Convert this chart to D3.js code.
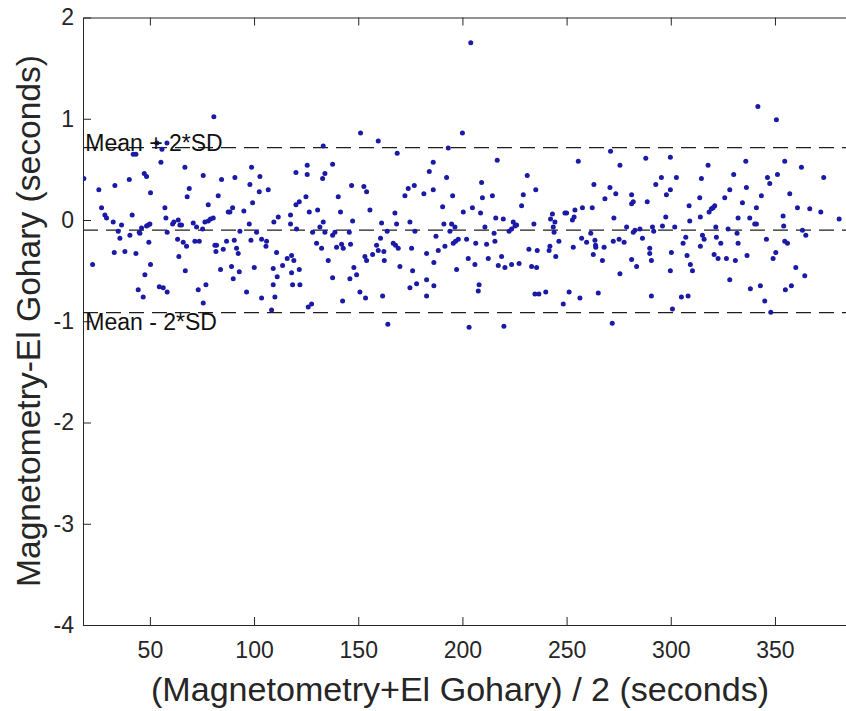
<!DOCTYPE html>
<html><head><meta charset="utf-8">
<script src="https://cdn.jsdelivr.net/npm/d3@7"></script>
<style>html,body{margin:0;padding:0;background:#fff;} svg{display:block;}</style>
</head><body>
<svg id="chart" width="846" height="711"></svg>
<script>
// Mean of the two methods (seconds)
const avgSec = [
18.3,22.5,25.5,26.8,28.4,29.2,32.4,33.2,32.9,34.8,35.6,36.4,38.0,40.1,40.4,41.5,42.0,43.3,43.3,44.4,
44.9,45.2,46.0,46.8,47.3,47.6,48.4,48.4,49.2,50.0,49.5,50.3,50.3,53.4,55.8,58.2,55.3,54.5,56.4,57.2,
57.7,58.3,58.3,60.9,61.5,63.6,63.3,63.9,64.4,65.2,66.0,66.8,67.0,67.6,67.9,68.9,70.8,71.6,72.4,73.2,
73.7,75.3,75.6,75.6,76.4,76.9,78.0,78.0,79.1,80.4,80.7,81.2,81.7,82.0,82.8,83.9,84.4,85.2,86.8,87.6,
88.4,89.2,89.7,90.0,90.5,90.8,91.6,92.4,92.9,93.2,95.1,96.4,97.7,98.0,98.5,98.8,99.3,100.1,101.2,102.5,
102.8,103.6,103.6,105.7,106.0,106.8,
108.4,109.2,109.2,109.5,110.0,110.8,111.1,111.6,113.7,115.9,117.5,117.5,118.0,118.0,118.5,119.1,120.1,120.1,120.4,121.7,
121.7,122.0,124.9,125.5,125.5,126.0,126.5,127.6,128.1,130.0,130.5,131.6,132.4,132.9,133.2,133.2,134.0,134.0,135.6,137.7,
137.7,137.7,138.8,139.6,140.4,141.5,142.0,142.5,142.8,145.7,146.0,146.3,146.8,147.3,147.9,149.2,150.8,151.1,152.7,153.2,
153.5,154.0,154.0,155.6,156.9,158.8,159.6,159.6,160.7,161.2,161.7,162.3,162.5,163.9,164.2,166.8,167.6,167.9,168.4,168.7,
169.2,170.0,172.4,174.0,174.8,174.8,175.6,176.1,176.9,177.2,178.0,181.5,182.8,182.8,182.8,184.1,186.0,186.0,186.3,186.3,
187.3,188.4,190.5,191.1,191.6,192.4,193.2,194.0,194.8,195.3,195.6,196.4,196.7,197.2,198.0,
200.0,200.4,202.0,202.8,203.2,204.0,204.8,206.0,206.4,207.6,208.0,208.7,209.2,209.6,210.8,211.6,212.4,214.4,215.2,215.6,
216.0,216.7,217.2,218.8,219.6,219.9,220.4,222.4,223.6,223.6,224.4,225.2,226.0,227.2,228.4,229.2,231.1,231.9,233.2,234.3,
234.8,235.2,235.6,235.9,236.7,240.0,241.6,242.0,242.3,243.2,243.6,244.0,244.4,244.8,246.3,248.4,249.2,250.0,251.2,252.8,
253.2,253.6,254.0,255.6,256.4,257.2,257.6,259.6,261.6,262.3,262.8,263.1,263.6,263.9,264.0,265.2,267.2,268.0,268.4,270.8,
271.1,271.9,272.4,272.7,273.6,275.2,275.6,275.6,277.6,278.8,281.2,281.2,281.2,282.0,282.0,282.8,283.6,285.2,286.4,288.0,
288.7,
289.9,289.9,290.7,290.7,291.2,291.8,292.8,295.5,296.0,297.6,297.9,299.8,299.8,299.8,300.3,300.8,301.9,302.7,305.1,305.9,
307.2,307.8,308.3,308.8,309.1,309.4,310.4,313.9,314.2,314.2,314.7,315.2,316.0,317.9,318.4,319.5,320.3,321.1,320.8,321.6,
321.9,322.7,324.0,325.9,326.7,327.5,328.3,328.3,330.2,331.0,331.8,332.3,332.3,334.4,336.0,336.3,336.6,337.9,338.2,340.3,
341.1,341.1,341.8,343.0,343.5,345.1,345.9,346.4,347.5,348.0,349.1,350.4,350.7,351.2,353.9,354.2,354.7,354.7,355.0,356.0,
357.1,357.9,360.0,360.8,362.7,363.2,364.3,364.8,366.7,372.0,373.4,380.8
];
// Difference between the two methods (seconds)
const diffSec = [
0.41,-0.44,0.30,0.12,0.05,0.02,-0.02,0.34,-0.32,-0.11,-0.18,-0.05,-0.31,0.40,-0.15,0.05,0.65,0.65,-0.33,-0.69,
-0.12,-0.13,-0.08,-0.76,0.46,-0.54,0.43,-0.06,-0.05,-0.04,-0.22,0.27,-0.44,0.76,0.70,0.76,0.57,-0.66,-0.67,0.12,
0.02,-0.12,-0.71,-0.04,-0.02,0.00,-0.19,-0.36,-0.05,-0.05,-0.22,0.52,-0.50,-0.26,0.23,0.31,-0.03,-0.21,-0.07,-0.69,
-0.21,-0.09,0.44,-0.82,-0.02,-0.64,0.15,-0.01,0.01,0.02,1.02,-0.25,-0.31,-0.25,0.24,-0.49,0.40,-0.29,-0.21,0.08,
0.08,-0.46,0.12,-0.58,-0.20,0.42,-0.28,-0.33,-0.51,-0.11,0.09,-0.71,-0.04,0.35,-0.20,0.52,0.17,-0.47,-0.12,0.28,
0.43,-0.77,-0.19,-0.26,-0.21,0.30,
-0.89,-0.48,-0.64,-0.02,-0.76,-0.32,-0.56,0.03,-0.45,-0.38,0.05,-0.04,-0.35,-0.52,-0.64,-0.40,0.47,0.15,-0.09,0.18,
-0.49,-0.64,0.23,0.54,0.45,-0.86,0.08,-0.83,-0.12,-0.23,0.10,-0.07,-0.28,0.41,-0.02,0.73,0.46,-0.12,-0.40,0.55,
-0.15,-0.57,-0.12,-0.27,0.23,0.08,-0.24,-0.80,-0.28,-0.12,-0.58,-0.24,0.34,-0.01,-0.47,-0.54,-0.71,0.86,0.33,-0.36,
-0.77,0.28,-0.40,0.10,-0.34,-0.25,0.78,-0.30,-0.18,-0.03,-0.75,-0.31,-0.40,-0.11,-1.03,-0.23,0.07,-0.25,-0.04,0.66,
-0.28,-0.46,0.24,0.31,-0.02,-0.67,-0.28,-0.50,0.34,-0.11,-0.63,0.26,-0.33,-0.59,-0.75,0.48,0.57,0.30,-0.65,-0.42,
-0.16,-0.30,0.13,-0.04,-0.26,0.42,0.71,-0.11,-0.04,0.24,-0.23,-0.07,-0.21,-0.49,-0.19,
0.86,0.08,-0.19,-0.38,-1.06,1.75,0.12,-0.44,-0.23,-0.70,-0.64,0.07,0.37,0.22,-0.07,-0.24,-0.38,0.24,-0.13,-0.21,
0.02,0.59,-0.45,-0.36,0.01,-1.05,-0.47,-0.11,-0.09,-0.44,-0.02,-0.06,-0.05,-0.43,0.14,0.25,0.44,-0.29,-0.46,-0.04,
-0.73,0.30,-0.47,-0.30,-0.73,-0.71,-0.30,-0.26,0.01,0.06,-0.07,-0.12,-0.02,-0.36,-0.21,-0.83,0.07,0.07,-0.71,0.00,
-0.27,0.03,0.10,0.58,-0.77,-0.18,0.12,-0.22,-0.13,0.12,-0.34,0.35,-0.20,-0.25,-0.27,-0.72,-0.40,-0.27,0.21,0.32,
0.68,-1.02,-0.21,0.02,0.26,-0.19,-0.53,0.54,-0.22,-0.07,0.25,-0.39,0.16,0.18,-0.12,-0.10,-0.46,-0.09,-0.18,0.61,
0.18,
-0.28,-0.33,-0.40,-0.75,-0.07,-0.11,0.35,0.42,-0.06,0.03,0.25,0.62,0.30,-0.50,-0.32,-0.88,-0.07,0.42,-0.76,-0.23,
-0.17,-0.35,-0.75,0.14,-0.01,-0.44,-0.50,0.22,0.03,-0.26,0.41,-0.15,-0.19,0.54,0.08,0.11,0.12,0.14,-0.34,-0.07,
-0.17,-0.38,-0.23,0.22,-0.38,-0.09,0.30,-0.59,0.45,-0.40,-0.13,0.02,-0.23,0.17,0.58,0.32,-0.35,0.02,-0.68,-0.04,
0.12,-0.04,1.12,-0.65,0.24,-0.80,-0.19,0.42,0.36,-0.91,-0.38,-0.32,0.99,0.45,0.04,-0.06,0.58,-0.21,-0.69,-0.23,
0.26,-0.65,-0.47,0.12,0.52,-0.10,-0.55,-0.15,0.11,0.08,0.42,0.01
];
const meanDiff = -0.100;
const upperLimit = 0.715;
const lowerLimit = -0.915;
const limitLabels = ["Mean + 2*SD", "Mean - 2*SD"];
const xTicks = [50, 100, 150, 200, 250, 300, 350];
const yTicks = [-4, -3, -2, -1, 0, 1, 2];
const xLabel = "(Magnetometry+El Gohary) / 2 (seconds)";
const yLabel = "Magnetometry-El Gohary (seconds)";

const svg = d3.select("#chart");
const FONT = "'Liberation Sans', Arial, Helvetica, sans-serif";
const axisColor = "#262626";

const x = d3.scaleLinear().domain([17.9, 390]).range([83, 858.3]);
const y = d3.scaleLinear().domain([-4, 2]).range([625, 17.5]);
const [x0, x1] = x.range();
const [yb, yt] = y.range();

svg.append("defs").append("clipPath").attr("id", "plotClip")
  .append("rect").attr("x", x0).attr("y", yt).attr("width", x1 - x0).attr("height", yb - yt);

const plain = d => String(d);

// Axes
const gx = svg.append("g").attr("transform", `translate(0,${yb})`)
  .call(d3.axisBottom(x).tickValues(xTicks).tickFormat(plain).tickSizeInner(-8).tickSizeOuter(0).tickPadding(17));
const gxTop = svg.append("g").attr("transform", `translate(0,${yt})`)
  .call(d3.axisTop(x).tickValues(xTicks).tickSizeInner(-8).tickSizeOuter(0).tickFormat(""));
const gy = svg.append("g").attr("transform", `translate(${x0},0)`)
  .call(d3.axisLeft(y).tickValues(yTicks).tickFormat(plain).tickSizeInner(-8).tickSizeOuter(0).tickPadding(9));

[gx, gxTop, gy].forEach(g => {
  g.selectAll("path.domain").attr("stroke", axisColor).attr("stroke-width", 1);
  g.selectAll(".tick line").attr("stroke", axisColor).attr("stroke-width", 1);
  g.selectAll(".tick text").attr("fill", axisColor).style("font-family", FONT).style("font-size", "23px");
});

const plot = svg.append("g").attr("clip-path", "url(#plotClip)");

// Reference lines
[upperLimit, meanDiff, lowerLimit].forEach(v => {
  plot.append("line")
    .attr("x1", x0).attr("x2", x1)
    .attr("y1", y(v)).attr("y2", y(v))
    .attr("stroke", "#1e1e1e").attr("stroke-width", 1.3)
    .attr("stroke-dasharray", "15 8");
});

// Points
const pts = avgSec.map((a, i) => ({a, d: diffSec[i]}));
plot.selectAll("circle").data(pts).enter().append("circle")
  .attr("cx", p => x(p.a)).attr("cy", p => y(p.d))
  .attr("r", 2.5).attr("fill", "#1a1aa6");

// Limit labels
svg.append("text").attr("x", x(19.0)).attr("y", y(upperLimit) + 3)
  .text(limitLabels[0]).attr("fill", "#111").style("font-family", FONT).style("font-size", "23px");
svg.append("text").attr("x", x(19.0)).attr("y", y(lowerLimit) + 17)
  .text(limitLabels[1]).attr("fill", "#111").style("font-family", FONT).style("font-size", "23px");

// Axis labels
svg.append("text").attr("x", 460).attr("y", 701).attr("text-anchor", "middle")
  .attr("textLength", 618).attr("lengthAdjust", "spacingAndGlyphs")
  .text(xLabel).attr("fill", axisColor).style("font-family", FONT).style("font-size", "34px");
svg.append("text").attr("transform", `translate(40,321) rotate(-90)`).attr("text-anchor", "middle")
  .attr("textLength", 532).attr("lengthAdjust", "spacingAndGlyphs")
  .text(yLabel).attr("fill", axisColor).style("font-family", FONT).style("font-size", "34px");
</script>
</body></html>
